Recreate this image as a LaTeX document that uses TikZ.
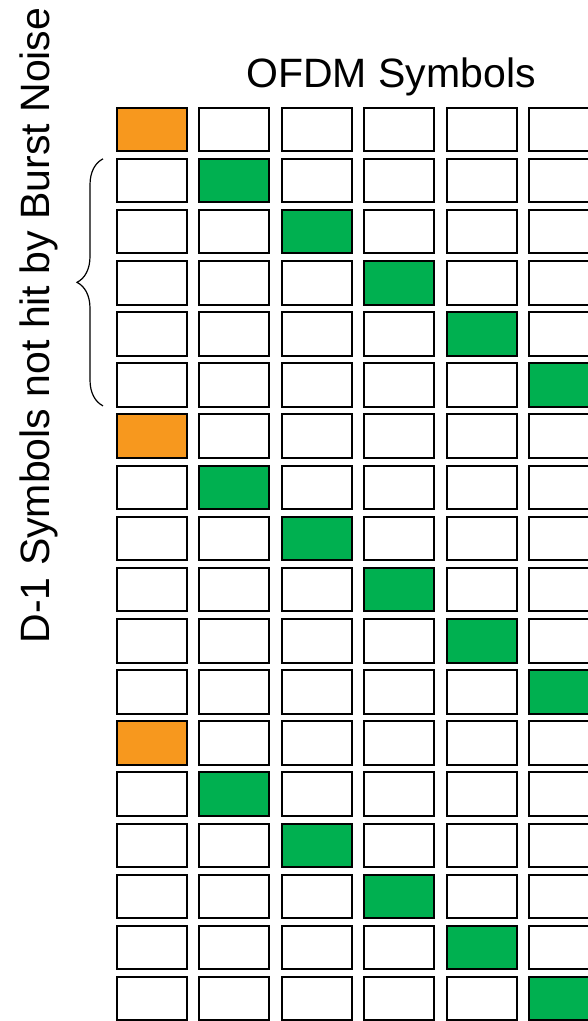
\documentclass[tikz,border=0pt]{standalone}
\usepackage{fontspec}
\setmainfont{Liberation Sans}
\usetikzlibrary{decorations.pathreplacing}
\definecolor{pilotorange}{HTML}{F7981E}
\definecolor{datagreen}{HTML}{00B050}

\begin{document}
\begin{tikzpicture}[
  x=1pt, y=-1pt,
  cell/.style={draw, line width=2pt, fill=white, inner sep=0pt, anchor=north west,
    minimum width=70pt, minimum height=43.5pt},
  pilotcell/.style={cell, fill=pilotorange},
  datacell/.style={cell, fill=datagreen},
  lbl/.style={font=\fontsize{41}{41}\selectfont, inner sep=0pt}
]
\useasboundingbox (0,0) rectangle (588,1021);
\clip (0,0) rectangle (588,1021);

% --- Grid of symbol cells ----------------------------------------------------
\foreach \r in {0,...,17}
  \foreach \c in {0,...,5} {
    \pgfmathtruncatemacro\m{mod(\r,6)}
    \ifnum\m=\c
      \ifnum\m=0 \def\sty{pilotcell}\else\def\sty{datacell}\fi
    \else\def\sty{cell}\fi
    \node[\sty] (c-\r-\c) at (116+82.4*\c, 106.7+51.13*\r) {};
  }

% --- Labels ------------------------------------------------------------------
\node[lbl, anchor=base] (title) at (391,87) {OFDM Symbols};
\node[lbl, rotate=90, anchor=base] (side) at (49.5,325.5) {D-1 Symbols not hit by Burst Noise};

% --- Brace over the D-1 rows -------------------------------------------------
\draw[decorate, decoration={brace, amplitude=26pt}, line width=1.2pt]
  ([xshift=-13pt, yshift=2pt]c-5-0.south west) -- ([xshift=-13pt, yshift=-1pt]c-1-0.north west);

\end{tikzpicture}
\end{document}
